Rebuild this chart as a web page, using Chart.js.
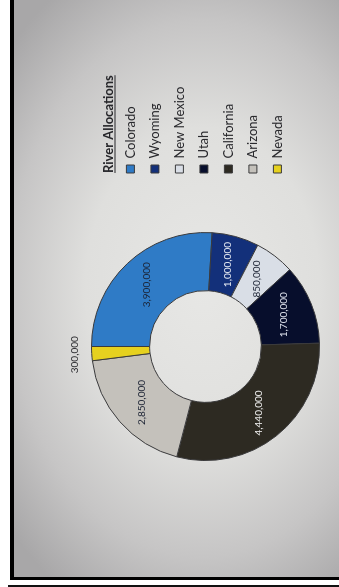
<!DOCTYPE html>
<html>
<head>
<meta charset="utf-8">
<script src="https://cdn.jsdelivr.net/npm/chart.js@4.4.0/dist/chart.umd.min.js"></script>
<style>
  html, body { margin: 0; padding: 0; background: #fff; }
  body { width: 339px; height: 587px; position: relative; overflow: hidden; }
  /* the photographed monitor */
  #screen {
    position: absolute; left: 14px; top: 0; width: 325px; height: 577px;
    background: radial-gradient(ellipse 80% 62% at 58% 50%, #e7e7e5 0%, #dfdfdd 45%, #c6c5c5 75%, #a8a7a8 100%);
  }
  #edgeL { position: absolute; left: 10px; top: 0; width: 4px; height: 580px; background: #000; }
  #edgeB { position: absolute; left: 10px; top: 577px; width: 329px; height: 3px; background: #000; }
  #lineB { position: absolute; left: 8px; top: 585px; width: 331px; height: 2px; background: #111; }
  /* chart is shot sideways */
  #turn {
    position: absolute; left: 14px; top: 577px; width: 577px; height: 325px;
    transform-origin: 0 0; transform: rotate(-90deg);
  }
</style>
</head>
<body>
<div id="screen"></div>
<div id="edgeL"></div>
<div id="edgeB"></div>
<div id="lineB"></div>
<div id="turn"><canvas id="canvas" width="577" height="325"></canvas></div>
<script>
'use strict';
const states = ['Colorado', 'Wyoming', 'New Mexico', 'Utah', 'California', 'Arizona', 'Nevada'];
const allocations = [3900000, 1000000, 850000, 1700000, 4440000, 2850000, 300000];
const sliceColors = ['#2f7bc6', '#13307a', '#d9dee6', '#070e2c', '#2d2a22', '#c4c1bb', '#e6d11f'];
const labelColors = ['#1b2233', '#e8ecf4', '#1b2233', '#dfe3ee', '#f2f2f2', '#1b2233', '#2a2a2e'];
const legendTitle = 'River Allocations';

const canvasWidth = 577;
const legendLeft = 392.5; // where the legend should start

Chart.defaults.font.family = 'Lato';

// value labels in the middle of each slice (small ones go outside)
const sliceLabels = {
  id: 'sliceLabels',
  afterDatasetsDraw(chart) {
    const ctx = chart.ctx;
    const meta = chart.getDatasetMeta(0);
    ctx.save();
    ctx.font = '10px Lato';
    ctx.textAlign = 'center';
    ctx.textBaseline = 'middle';
    meta.data.forEach((arc, i) => {
      let pos;
      if (allocations[i] < 500000) {
        const mid = (arc.startAngle + arc.endAngle) / 2;
        const r = arc.outerRadius + 17;
        pos = { x: arc.x + Math.cos(mid) * r, y: arc.y + Math.sin(mid) * r };
      } else {
        pos = arc.tooltipPosition();
      }
      ctx.fillStyle = labelColors[i];
      ctx.fillText(allocations[i].toLocaleString('en-US'), pos.x, pos.y);
    });
    ctx.restore();
  }
};

// underlined legend heading, lined up with the boxes
const legendHeading = {
  id: 'legendHeading',
  afterDraw(chart) {
    const lg = chart.legend;
    const ctx = chart.ctx;
    const x = lg.left + lg.options.labels.padding;
    const y = lg.top + 19;
    ctx.save();
    ctx.font = 'bold 13px Lato';
    ctx.fillStyle = '#26262a';
    ctx.textBaseline = 'alphabetic';
    ctx.fillText(legendTitle, x, y);
    ctx.fillRect(x, y + 1.5, ctx.measureText(legendTitle).width, 1);
    ctx.restore();
  }
};

const chart = new Chart(document.getElementById('canvas').getContext('2d'), {
  type: 'doughnut',
  data: {
    labels: states,
    datasets: [
      {
        data: allocations,
        backgroundColor: sliceColors,
        borderColor: '#3a3a3c',
        borderWidth: 1,
        radius: 114,
      },
    ],
  },
  options: {
    responsive: false,
    animation: false,
    events: [],
    cutout: '49%',
    layout: {
      padding: { left: 68.5, right: 80, top: 80, bottom: 22 },
    },
    plugins: {
      tooltip: { enabled: false },
      legend: {
        position: 'right',
        align: 'start',
        title: {
          display: true,
          text: legendTitle,
          color: 'transparent',
          font: { size: 12, weight: 'bold' },
          padding: { top: 0, bottom: 4 },
        },
        labels: {
          boxWidth: 8,
          boxHeight: 8,
          padding: 11.5,
          color: '#2a2a2e',
          font: { size: 13 },
        },
      },
    },
  },
  plugins: [sliceLabels, legendHeading],
});

// push the legend to its spot now that its width is known
chart.options.layout.padding.right = canvasWidth - legendLeft - chart.legend.width;
chart.update();
</script>
</body>
</html>
